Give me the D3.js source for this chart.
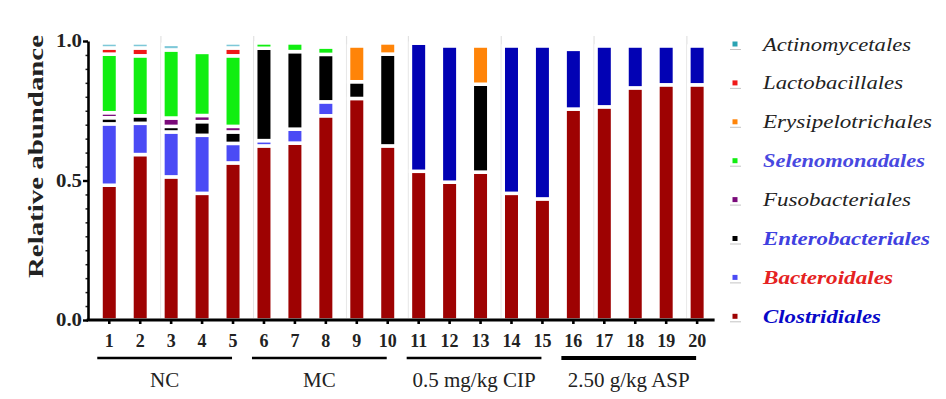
<!DOCTYPE html>
<html>
<head>
<meta charset="utf-8">
<script src="https://cdn.jsdelivr.net/npm/d3@7"></script>
<style>
  html, body { margin: 0; padding: 0; background: #fff; }
  svg { display: block; }
</style>
</head>
<body>
<svg></svg>
<script>
// sample numbers on the x axis
const samples = ["1","2","3","4","5","6","7","8","9","10","11","12","13","14","15","16","17","18","19","20"];

// stacking order, bottom to top
const orders = ["Clostridiales","Bacteroidales","Enterobacteriales","Fusobacteriales",
  "Selenomonadales","Erysipelotrichales","Lactobacillales","Actinomycetales"];

// relative abundance per sample
const clostridiales      = [0.483,0.593,0.513,0.454,0.563,0.624,0.634,0.732,0.794,0.624,0.533,0.494,0.530,0.454,0.434,0.756,0.764,0.832,0.843,0.843];
const bacteroidales      = [0.220,0.112,0.161,0.208,0.070,0.019,0.050,0.050,0,0,0.459,0.488,0,0.528,0.548,0.214,0.218,0.150,0.139,0.139];
const enterobacteriales  = [0.022,0.027,0.020,0.049,0.041,0.331,0.278,0.170,0.060,0.329,0,0,0.315,0,0,0,0,0,0,0];
const fusobacteriales    = [0.018,0,0.030,0.022,0.020,0,0,0,0,0,0,0,0,0,0,0,0,0,0,0];
const selenomonadales    = [0.210,0.215,0.244,0.226,0.253,0.019,0.031,0.026,0,0,0,0,0,0,0,0,0,0,0,0];
const erysipelotrichales = [0,0,0,0,0,0,0,0,0.128,0.040,0,0,0.137,0,0,0,0,0,0,0];
const lactobacillales    = [0.022,0.028,0,0,0.028,0,0,0,0,0,0,0,0,0,0,0,0,0,0,0];
const actinomycetales    = [0.018,0.018,0.020,0,0.018,0,0,0,0,0,0,0,0,0,0,0,0,0,0,0];

// treatment groups under the axis
const groupNames = ["NC","MC","0.5 mg/kg CIP","2.50 g/kg ASP"];
const groupFirst = ["1","6","11","16"];
const groupLast  = ["5","10","15","20"];

const yTicks = [0, 0.5, 1.0];

const width = 946, height = 399;
const margin = { left: 88, top: 41, bottom: 79 };

const svg = d3.select("svg").attr("width", width).attr("height", height)
  .attr("viewBox", [0, 0, width, height]);

const seriesValues = {
  Clostridiales: clostridiales, Bacteroidales: bacteroidales,
  Enterobacteriales: enterobacteriales, Fusobacteriales: fusobacteriales,
  Selenomonadales: selenomonadales, Erysipelotrichales: erysipelotrichales,
  Lactobacillales: lactobacillales, Actinomycetales: actinomycetales
};
const table = samples.map((s, i) => {
  const row = { sample: s };
  orders.forEach(k => row[k] = seriesValues[k][i]);
  return row;
});

const colors = {
  Clostridiales: "#9e0202", Bacteroidales: "#4b4bf5", Enterobacteriales: "#000000",
  Fusobacteriales: "#7a0a7a", Selenomonadales: "#11ee11", Erysipelotrichales: "#ff8408",
  Lactobacillales: "#f01818", Actinomycetales: "#7ec8d8"
};
const markerColors = Object.assign({}, colors, { Actinomycetales: "#2aa3b3" });
// the treated groups show Bacteroidales in a darker blue
const barColor = (key, i) => (key === "Bacteroidales" && i >= 10) ? "#0202b4" : colors[key];

const x = d3.scaleBand().domain(samples).range([93.8, 712.6])
  .paddingInner(0.467).paddingOuter(0.2335);
const y = d3.scaleLinear().domain([0, 1]).range([height - margin.bottom - 0, margin.top]);
// y(0) = 320
y.range([320, 41]);

const stacked = d3.stack().keys(orders)(table);

// faint vertical lines from the scanned figure
const dividerBefore = ["3","6","9","11","14","17","20"];
svg.append("g").selectAll("line").data(dividerBefore).join("line")
  .attr("x1", d => x(d) - 2).attr("x2", d => x(d) - 2)
  .attr("y1", 36).attr("y2", 318)
  .attr("stroke", "#e2e2e2").attr("stroke-width", 1.2);

// bars
svg.append("g").selectAll("g").data(stacked).join("g")
  .selectAll("rect").data(d => d.map((v, i) => ({ key: d.key, v, i })).filter(e => e.v[1] - e.v[0] > 0))
  .join("rect")
  .attr("x", e => x(e.v.data.sample))
  .attr("width", x.bandwidth())
  .attr("y", e => y(e.v[1]))
  .attr("height", e => y(e.v[0]) - y(e.v[1]))
  .attr("fill", e => barColor(e.key, e.i))
  .attr("stroke", "#fff")
  .attr("stroke-width", 3.5);

// y axis with minor ticks
const serif = "'Liberation Serif', 'Times New Roman', serif";
svg.append("g").attr("transform", `translate(${margin.left},0)`)
  .call(d3.axisLeft(y).tickValues(d3.range(0, 1.0001, 0.05)).tickSize(2.5).tickFormat(""))
  .call(g => g.select(".domain").remove())
  .call(g => g.selectAll("line").attr("stroke", "#222").attr("stroke-width", 1.5));

const yAxis = svg.append("g").attr("transform", `translate(${margin.left},0)`)
  .call(d3.axisLeft(y).tickValues(yTicks).tickFormat(d3.format(".1f")).tickSize(5).tickSizeOuter(0).tickPadding(1));
yAxis.select(".domain").attr("stroke", "#000").attr("stroke-width", 2.6);
yAxis.selectAll("line").attr("stroke-width", 2.4);
yAxis.selectAll("text")
  .attr("font-family", serif).attr("font-weight", "bold").attr("font-size", 18)
  .attr("fill", "#222").attr("textLength", 26).attr("lengthAdjust", "spacingAndGlyphs");

// x axis
const xAxis = svg.append("g").attr("transform", "translate(0,320)")
  .call(d3.axisBottom(x).tickSize(4).tickPadding(10).tickSizeOuter(0));
xAxis.select(".domain").remove();
xAxis.selectAll("line").attr("stroke-width", 2.6);
xAxis.selectAll("text")
  .attr("font-family", serif).attr("font-weight", "bold").attr("font-size", 18).attr("fill", "#222");
xAxis.append("line")
  .attr("x1", margin.left - 1.3).attr("x2", x.range()[1] + 2)
  .attr("stroke", "#000").attr("stroke-width", 3);

// group brackets and names
const groups = svg.append("g");
groupNames.forEach((name, i) => {
  const x1 = x(groupFirst[i]) + x.bandwidth() / 2 - 12;
  const x2 = x(groupLast[i]) + x.bandwidth() / 2 - 1;
  groups.append("line")
    .attr("x1", x1).attr("x2", x2).attr("y1", 358).attr("y2", 358)
    .attr("stroke", "#000").attr("stroke-width", i === 3 ? 4 : 2.7);
  groups.append("text")
    .attr("x", (x1 + x2) / 2).attr("y", 387)
    .attr("text-anchor", "middle")
    .attr("font-family", serif).attr("font-size", 21).attr("fill", "#222")
    .text(name);
});

// y label
svg.append("text")
  .attr("transform", "translate(43,156.5) rotate(-90)")
  .attr("text-anchor", "middle")
  .attr("font-family", serif).attr("font-weight", "bold").attr("font-size", 20)
  .attr("fill", "#222")
  .attr("textLength", 243).attr("lengthAdjust", "spacingAndGlyphs")
  .text("Relative abundance");

// legend
const legendKeys = orders.slice().reverse();
const legendStyle = {
  Actinomycetales:    { fill: "#222", bold: false, w: 148 },
  Lactobacillales:    { fill: "#222", bold: false, w: 140 },
  Erysipelotrichales: { fill: "#222", bold: false, w: 169 },
  Selenomonadales:    { fill: "#4848e0", bold: true, w: 162 },
  Fusobacteriales:    { fill: "#222", bold: false, w: 148 },
  Enterobacteriales:  { fill: "#4040e0", bold: true, w: 167 },
  Bacteroidales:      { fill: "#e52222", bold: true, w: 130 },
  Clostridiales:      { fill: "#0808c8", bold: true, w: 118 }
};
const legend = svg.append("g").selectAll("g").data(legendKeys).join("g")
  .attr("transform", (d, i) => `translate(735,${44 + i * 38.9})`);
legend.append("line")
  .attr("x1", -5).attr("x2", 6).attr("y1", 5.5).attr("y2", 5.5)
  .attr("stroke", "#c4c4c4").attr("stroke-width", 1);
legend.append("rect")
  .attr("x", -2.5).attr("y", -2.5).attr("width", 5).attr("height", 5)
  .attr("fill", d => markerColors[d]);
legend.append("text")
  .attr("x", 28).attr("y", 6.5)
  .attr("font-family", serif).attr("font-style", "italic").attr("font-size", 19)
  .attr("font-weight", d => legendStyle[d].bold ? "bold" : "normal")
  .attr("fill", d => legendStyle[d].fill)
  .attr("textLength", d => legendStyle[d].w).attr("lengthAdjust", "spacingAndGlyphs")
  .text(d => d);
</script>
</body>
</html>
